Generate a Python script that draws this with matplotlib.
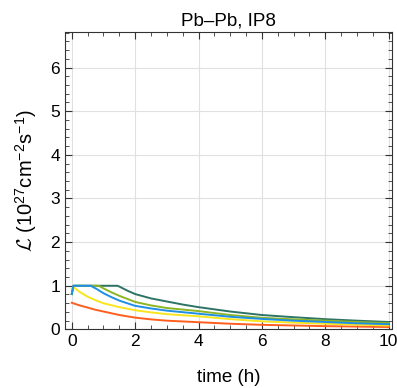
import matplotlib
matplotlib.use("Agg")
import matplotlib.pyplot as plt
from matplotlib.ticker import MultipleLocator

plt.rcParams['font.family'] = ['Liberation Sans', 'DejaVu Sans']
plt.rcParams['mathtext.fontset'] = 'custom'
plt.rcParams['mathtext.rm'] = 'Liberation Sans'
plt.rcParams['mathtext.cal'] = 'cmsy10'

# values (time in h, luminosity in 1e27 cm^-2 s^-1)
t_orange = [0, 0.25, 0.5, 0.75, 1, 1.5, 2, 2.5, 3, 4, 5, 6, 7, 8, 9, 10]
L_orange = [0.61, 0.55, 0.50, 0.45, 0.41, 0.33, 0.27, 0.23, 0.20, 0.165, 0.13, 0.105, 0.09, 0.075, 0.065, 0.055]

t_yellow = [0, 0.05, 0.25, 0.5, 0.75, 1, 1.5, 2, 2.5, 3, 4, 5, 6, 7, 8, 9, 10]
L_yellow = [0.93, 0.97, 0.86, 0.75, 0.67, 0.60, 0.51, 0.44, 0.39, 0.35, 0.30, 0.235, 0.185, 0.155, 0.13, 0.11, 0.09]

t_blue = [0, 0.05, 0.6, 0.8, 1, 1.25, 1.5, 2, 2.5, 3, 4, 5, 6, 7, 8, 9, 10]
L_blue = [0.81, 1.0, 1.0, 0.92, 0.83, 0.74, 0.66, 0.54, 0.48, 0.43, 0.36, 0.29, 0.24, 0.20, 0.17, 0.14, 0.12]

t_green = [0, 0.05, 0.85, 1, 1.25, 1.5, 2, 2.5, 3, 4, 5, 6, 7, 8, 9, 10]
L_green = [0.81, 1.0, 1.0, 0.94, 0.85, 0.77, 0.63, 0.55, 0.49, 0.42, 0.33, 0.265, 0.23, 0.20, 0.17, 0.145]

t_teal = [0, 0.05, 1.45, 1.75, 2, 2.5, 3, 3.5, 4, 5, 6, 7, 8, 9, 10]
L_teal = [0.81, 1.0, 1.0, 0.89, 0.81, 0.71, 0.64, 0.57, 0.51, 0.41, 0.33, 0.28, 0.235, 0.20, 0.17]

fig = plt.figure(figsize=(3.97, 3.88), dpi=100)
ax = fig.add_axes([0.164, 0.151, 0.823, 0.766])

ax.plot(t_teal, L_teal, color='#2e7466', lw=1.4)
ax.plot(t_green, L_green, color='#8cb523', lw=1.4)
ax.plot(t_orange, L_orange, color='#ff5e1f', lw=1.4)
ax.plot(t_yellow, L_yellow, color='#f7e51d', lw=1.4)
ax.plot(t_blue, L_blue, color='#1e8ee6', lw=1.4)

ax.set_xlim(-0.21, 10.1)
ax.set_ylim(0, 6.81)
ax.xaxis.set_major_locator(MultipleLocator(2))
ax.xaxis.set_minor_locator(MultipleLocator(0.5))
ax.yaxis.set_major_locator(MultipleLocator(1))
ax.yaxis.set_minor_locator(MultipleLocator(0.2))
ax.tick_params(which='both', direction='in', top=True, right=True, labelsize=12.5, colors='#333333', labelcolor='black')
ax.tick_params(which='major', length=5, width=0.8)
ax.tick_params(which='minor', length=3, width=0.6)
ax.grid(True, which='major', color='#e0e0e0', lw=0.8)
for s in ax.spines.values():
    s.set_color('#333333')
    s.set_linewidth(0.8)

ax.set_title('Pb\u2013Pb, IP8', fontsize=13.5, pad=5)
ax.set_xlabel('time (h)', fontsize=13.5, labelpad=14)
ax.set_ylabel(r'$\mathcal{L}$ (10$^{27}$cm$^{-2}$s$^{-1}$)', fontsize=14.5, labelpad=8)

fig.savefig('out.png', dpi=100)
